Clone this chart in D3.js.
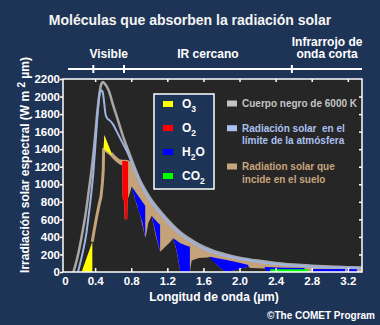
<!DOCTYPE html>
<html><head><meta charset="utf-8">
<script src="https://cdnjs.cloudflare.com/ajax/libs/d3/7.8.5/d3.min.js"></script>
<style>
html,body{margin:0;padding:0;background:#1e3456;}
svg{display:block;}
text{font-family:"Liberation Sans",Arial,Helvetica,sans-serif;font-weight:bold;}
</style></head><body>
<svg id="c" width="380" height="325"></svg>
<script>
// ---------- data ----------
const titleText = "Moléculas que absorben la radiación solar";
const xTickValues = [0, 0.4, 0.8, 1.2, 1.6, 2.0, 2.4, 2.8, 3.2];
const xTickLabels = ["0", "0.4", "0.8", "1.2", "1.6", "2.0", "2.4", "2.8", "3.2"];
const yTickValues = [0, 200, 400, 600, 800, 1000, 1200, 1400, 1600, 1800, 2000, 2200];
const regionBounds = [0.38, 0.72, 2.58];
const regionCenters = [0.55, 1.65, 2.97];
const regionLabels = [["Visible"], ["IR cercano"], ["Infrarrojo de", "onda corta"]];

// blackbody 6000 K (gray)
const bbWl  = [0.16,0.2,0.25,0.3,0.33,0.36,0.39,0.42,0.45,0.47,0.485,0.5,0.55,0.6,0.65,0.7,0.75,0.8,0.85,0.9,0.95,1.0,1.1,1.2,1.3,1.4,1.5,1.6,1.7,1.8,1.9,2.0,2.2,2.4,2.6,2.8,3.0,3.2,3.36];
const bbVal = [0,150,400,700,930,1160,1440,1780,2050,2145,2165,2155,2070,1900,1740,1575,1430,1295,1160,1040,945,860,720,600,495,410,345,290,247,213,186,164,130,103,85,72,62,55,50];

// top of atmosphere (light blue)
const toaWl  = [0.21,0.26,0.3,0.335,0.36,0.38,0.4,0.42,0.445,0.462,0.476,0.488,0.5,0.515,0.535,0.565,0.6,0.65,0.7,0.75,0.8,0.85,0.9,0.95,1.0,1.1,1.2,1.3,1.4,1.5,1.6,1.7,1.8,1.9,2.0,2.2,2.4,2.6,2.8,3.0,3.2,3.36];
const toaVal = [0,210,420,700,920,1130,1400,1700,1990,2060,2068,2030,1930,1800,1750,1725,1680,1580,1480,1380,1260,1135,1015,915,830,695,575,470,388,325,268,226,194,170,150,117,92,74,61,52,46,42];

// surface radiation (tan): upper envelope and absorbed spectrum
const sfcWl     = [0.368,0.39,0.417,0.447,0.465,0.48,0.49,0.494,0.502,0.54,0.58,0.62,0.66,0.70,0.705,0.722,0.727,0.755,0.76,0.765,0.785,0.805,0.85,0.90,0.955,0.965,0.99,1.027,1.07,1.12,1.13,1.18,1.23,1.266,1.3,1.345,1.415,1.45,1.47,1.55,1.65,1.673,1.75,1.8,1.858,1.95,2.02,2.098,2.12,2.2,2.28,2.3,2.5,2.76,2.8,3.0,3.2,3.36];
const sfcTop    = [345,480,630,783,860,1010,1163,1400,1560,1465,1355,1310,1275,1262,1264,1266,1266,1262,1261,1258,1245,1225,1095,978,872,855,815,760,704,642,630,571,517,480,445,410,356,335,325,278,230,221,195,180,168,146,134,122,119,106,96,94,76,56,53,45,39,35];
const sfcBottom = [345,480,630,783,860,1010,1163,1400,1395,1370,1335,1290,1255,1230,850,800,600,600,820,840,900,975,800,640,390,420,560,640,420,231,240,290,340,384,250,0,0,0,130,160,165,174,80,35,0,20,40,60,45,42,40,0,0,0,0,0,0,0];

// absorption bands
const gasNames  = ["O3", "O2", "H2O", "CO2"];
const gasColors = ["#ffff00", "#ff0000", "#0000ff", "#00ff00"];
const bands = [
  {gas:"O3",  wl:[0.25,0.31,0.369],                 top:[0,175,345],                 bottom:[0,0,0]},
  {gas:"O3",  wl:[0.49,0.494,0.502,0.54,0.585],     top:[1163,1400,1562,1460,1345],   bottom:[1163,1400,1395,1370,1332]},
  {gas:"O2",  wl:[0.70,0.705,0.722,0.727,0.755,0.76,0.765], top:[1262,1264,1266,1266,1262,1261,1258], bottom:[1230,850,800,600,600,820,840]},
  {gas:"H2O", wl:[0.805,0.82,0.835,0.85,0.865,0.88,0.895,0.91,0.925,0.94,0.955], top:[975,953,931,909,887,865,843,821,799,777,755], bottom:[975,905,870,800,770,700,660,610,560,470,390]},
  {gas:"H2O", wl:[1.027,1.045,1.065,1.085,1.105,1.12], top:[640,618,595,572,552,540], bottom:[640,560,470,380,300,231]},
  {gas:"H2O", wl:[1.266,1.29,1.31,1.33,1.345,1.415,1.45], top:[384,368,352,338,328,300,289], bottom:[384,300,210,90,0,0,0]},
  {gas:"H2O", wl:[1.673,1.69,1.75,1.8,1.858,1.95,2.02,2.098], top:[174,170,158,148,138,118,100,80], bottom:[174,137,80,35,0,20,40,60]},
  {gas:"H2O", wl:[2.28,2.3,2.41,2.5,2.72], top:[60,58,50,49,45], bottom:[40,0,0,0,0]},
  {gas:"CO2", wl:[2.34,2.76], top:[31,31], bottom:[0,0]},
  {gas:"H2O", wl:[2.8,3.17], top:[33,33], bottom:[0,0]},
  {gas:"H2O", wl:[3.19,3.3], top:[33,33], bottom:[0,0]}
];

const curveLegendLines = [["Cuerpo negro de 6000 K"], ["Radiación solar\u00a0 en el", "límite de la atmósfera"], ["Radiation solar que", "incide en el suelo"]];
const curveLegendColors = ["#c4c4c4", "#aac0f0", "#c6a47c"];

// ---------- drawing ----------
const W = 380, H = 325;
const BG = "#1e3456", PLOT_BG = "#262626", TAN = "#c4a27a";
const plotLeft = 63, plotRight = 362, plotTop = 79, plotBottom = 272;
const x = d3.scaleLinear().domain([0.044, 3.357]).range([plotLeft, plotRight]);
const y = d3.scaleLinear().domain([0, 2200]).range([plotBottom, plotTop]);
const gasColor = d3.scaleOrdinal().domain(gasNames).range(gasColors);

const svg = d3.select("#c");
svg.append("rect").attr("width", W).attr("height", H).attr("fill", BG);

svg.append("text").attr("x", 190).attr("y", 25).attr("text-anchor", "middle")
  .attr("font-size", 14).attr("fill", "#f4f4f4").text(titleText);

// region axis
const ry = 69;
svg.append("line").attr("x1", x(0.1)).attr("x2", plotRight).attr("y1", ry).attr("y2", ry)
  .attr("stroke", "#fff").attr("stroke-width", 2);
svg.selectAll("line.rt").data(regionBounds).join("line").attr("class", "rt")
  .attr("x1", d => x(d)).attr("x2", d => x(d)).attr("y1", ry - 4).attr("y2", ry + 4)
  .attr("stroke", "#fff").attr("stroke-width", 2);
regionLabels.forEach((lines, i) => {
  const t = svg.append("text").attr("text-anchor", "middle").attr("font-size", 12).attr("fill", "#fff");
  lines.forEach((ln, j) => {
    t.append("tspan").attr("x", x(regionCenters[i])).attr("y", 58 - (lines.length - 1 - j) * 12.5).text(ln);
  });
});

// plot
const defs = svg.append("defs");
defs.append("clipPath").attr("id", "clip").append("rect")
  .attr("x", plotLeft).attr("y", plotTop).attr("width", plotRight - plotLeft).attr("height", plotBottom - plotTop);
svg.append("rect").attr("x", plotLeft).attr("y", plotTop).attr("width", plotRight - plotLeft)
  .attr("height", plotBottom - plotTop).attr("fill", PLOT_BG);
const g = svg.append("g").attr("clip-path", "url(#clip)");

const sfc = sfcWl.map((w, i) => ({w, t: sfcTop[i], b: sfcBottom[i]}));
g.append("path").datum(sfc)
  .attr("d", d3.area().x(d => x(d.w)).y0(d => y(d.b)).y1(d => y(d.t)))
  .attr("fill", TAN);
g.append("path").datum(sfc.filter(d => d.w <= 0.70))
  .attr("d", d3.line().x(d => x(d.w)).y(d => y(d.b)))
  .attr("fill", "none").attr("stroke", TAN).attr("stroke-width", 3).attr("stroke-linejoin", "round");
g.append("path").datum(sfc.filter(d => d.w >= 0.58))
  .attr("d", d3.line().x(d => x(d.w)).y(d => y(d.t)))
  .attr("fill", "none").attr("stroke", TAN).attr("stroke-width", 2.5).attr("stroke-linejoin", "round");

bands.forEach(b => {
  const pts = b.wl.map((w, i) => ({w, t: b.top[i], b: b.bottom[i]}));
  g.append("path").datum(pts)
    .attr("d", d3.area().x(d => x(d.w)).y0(d => y(d.b)).y1(d => y(d.t)))
    .attr("fill", gasColor(b.gas));
});

const bb = bbWl.map((w, i) => ({w, v: bbVal[i]}));
const toa = toaWl.map((w, i) => ({w, v: toaVal[i]}));
const line = d3.line().x(d => x(d.w)).y(d => y(d.v)).curve(d3.curveMonotoneX);
g.append("path").datum(bb).attr("d", line).attr("fill", "none")
  .attr("stroke", "#a8a8a8").attr("stroke-width", 2.5);
g.append("path").datum(toa).attr("d", line).attr("fill", "none")
  .attr("stroke", "#9cb3e4").attr("stroke-width", 2);

// axes
function styleAxis(sel) {
  sel.select(".domain").remove();
  sel.selectAll(".tick line").attr("stroke", "#fff").attr("stroke-width", 1.5);
  sel.selectAll(".tick text").attr("fill", "#fff").attr("font-size", 11.5)
    .attr("font-family", "'Liberation Sans',Arial,sans-serif").attr("font-weight", "bold");
}
svg.append("g").attr("transform", `translate(${plotLeft},0)`)
  .call(d3.axisLeft(y).tickValues(yTickValues).tickSize(3).tickPadding(0).tickFormat(d3.format("d")))
  .call(styleAxis);
svg.append("g").attr("transform", `translate(${plotRight},0)`)
  .call(d3.axisRight(y).tickValues(yTickValues.slice(1, -1)).tickSize(-3).tickFormat(""))
  .call(styleAxis);
svg.append("g").attr("transform", `translate(0,${plotTop})`)
  .call(d3.axisTop(x).tickValues(xTickValues.slice(1)).tickSize(-3).tickFormat(""))
  .call(styleAxis);
const xb = svg.append("g").attr("transform", `translate(0,${plotBottom})`)
  .call(d3.axisBottom(x).tickValues(xTickValues).tickSize(-4).tickPadding(5)
    .tickFormat((d, i) => xTickLabels[i]))
  .call(styleAxis);
xb.selectAll(".tick").filter(d => d === 0).select("line").remove();
xb.selectAll(".tick").filter(d => d === 0).select("text").attr("dx", 6);

svg.append("rect").attr("x", plotLeft).attr("y", plotTop).attr("width", plotRight - plotLeft)
  .attr("height", plotBottom - plotTop).attr("fill", "none").attr("stroke", "#fff").attr("stroke-width", 1.5);

// axis titles
svg.append("text").attr("x", 214).attr("y", 301).attr("text-anchor", "middle")
  .attr("font-size", 12).attr("fill", "#fff").text("Longitud de onda (µm)");
const yt = svg.append("text").attr("transform", "translate(29,165) rotate(-90)")
  .attr("text-anchor", "middle").attr("font-size", 12).attr("fill", "#fff");
yt.append("tspan").text("Irradiación solar espectral (W m ");
yt.append("tspan").attr("dy", -4).attr("font-size", 10).text("2");
yt.append("tspan").attr("dy", 4).text(" µm)");

// gas legend
svg.append("rect").attr("x", 154).attr("y", 94).attr("width", 60).attr("height", 95)
  .attr("fill", BG).attr("stroke", "#fff").attr("stroke-width", 1.5);
gasNames.forEach((gname, i) => {
  const by = 108 + i * 24;
  svg.append("rect").attr("x", 163).attr("y", by - 7).attr("width", 10).attr("height", 6).attr("fill", gasColors[i]);
  const t = svg.append("text").attr("x", 182).attr("y", by).attr("font-size", 12).attr("fill", "#fff");
  const m = gname.match(/^([A-Z]+)(\d)?([A-Z]*)$/);
  t.append("tspan").text(m[1]);
  if (m[2]) t.append("tspan").attr("dy", 4).attr("font-size", 8.5).text(m[2]);
  if (m[3]) t.append("tspan").attr("dy", -4).text(m[3]);
});

// curve legend
const legRows = [107, 131.7, 170];
curveLegendLines.forEach((lines, i) => {
  svg.append("rect").attr("x", 227).attr("y", legRows[i] - 6.5).attr("width", 10).attr("height", 6)
    .attr("fill", curveLegendColors[i]);
  const t = svg.append("text").attr("font-size", 10).attr("fill", curveLegendColors[i]);
  lines.forEach((ln, j) => t.append("tspan").attr("x", 242).attr("y", legRows[i] + j * 12.5).text(ln));
});

svg.append("text").attr("x", 375).attr("y", 319).attr("text-anchor", "end")
  .attr("font-size", 10).attr("fill", "#fff").text("©The COMET Program");
</script>
</body></html>
